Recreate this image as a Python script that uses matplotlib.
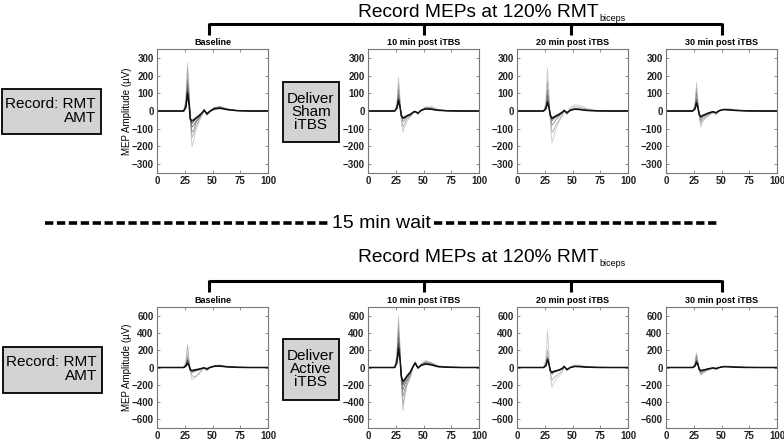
import matplotlib
matplotlib.use("Agg")
import matplotlib.pyplot as plt
from matplotlib.patches import Rectangle

plt.rcParams['font.family'] = ['Liberation Sans', 'DejaVu Sans']

# time axis (ms) shared by all traces
t = [0, 24, 26, 27.5, 29, 30, 31.5, 33, 35, 38, 41, 42.5, 45, 48, 52, 57, 63, 72, 85, 100]

# sham session, traces from lightest to the black mean
sham_base = [
    [0, 0, 60, 270, 120, -60, -200, -170, -110, -60, -20, 5, -25, -5, 15, 20, 10, 3, 0, 0],
    [0, 0, 50, 240, 100, -40, -150, -130, -90, -50, -15, 10, -20, 0, 18, 22, 12, 3, 0, 0],
    [0, 0, 40, 180, 80, -30, -120, -110, -70, -40, -10, 8, -18, 0, 20, 25, 12, 3, 0, 0],
    [0, 0, 35, 150, 60, -40, -90, -80, -60, -35, -5, 10, -15, 2, 20, 20, 10, 2, 0, 0],
    [0, 0, 25, 120, 40, -50, -70, -60, -45, -30, -8, 5, -20, 0, 15, 18, 8, 2, 0, 0],
    [0, 0, 20, 100, 30, -45, -55, -50, -40, -25, -8, 3, -15, 0, 12, 15, 8, 2, 0, 0],
]
sham_10 = [
    [0, 0, 40, 190, 60, -50, -120, -90, -60, -35, -10, 0, -20, 5, 20, 25, 10, 2, 0, 0],
    [0, 0, 30, 150, 40, -40, -90, -70, -45, -30, -8, 0, -18, 5, 22, 20, 8, 2, 0, 0],
    [0, 0, 25, 120, 30, -30, -60, -50, -35, -25, -5, -2, -15, 5, 18, 15, 6, 2, 0, 0],
    [0, 0, 20, 90, 25, -25, -45, -40, -30, -20, -6, -3, -12, 5, 15, 12, 5, 1, 0, 0],
    [0, 0, 15, 70, 20, -20, -40, -35, -25, -18, -5, -4, -12, 4, 12, 10, 4, 1, 0, 0],
    [0, 0, 15, 60, 15, -25, -40, -35, -28, -20, -6, -3, -12, 4, 12, 10, 4, 1, 0, 0],
]
sham_20 = [
    [0, 0, 50, 240, 80, -60, -180, -150, -100, -60, -25, -10, -10, 20, 35, 30, 15, 3, 0, 0],
    [0, 0, 30, 170, 50, -40, -120, -110, -80, -50, -20, 5, -20, 10, 25, 20, 10, 2, 0, 0],
    [0, 0, 25, 120, 35, -30, -80, -70, -50, -30, -10, 5, -15, 5, 15, 12, 5, 1, 0, 0],
    [0, 0, 20, 90, 25, -25, -55, -45, -35, -25, -8, 5, -12, 5, 12, 10, 4, 1, 0, 0],
    [0, 0, 15, 60, 15, -25, -45, -40, -30, -20, -6, 3, -10, 4, 10, 8, 3, 1, 0, 0],
    [0, 0, 12, 50, 12, -22, -40, -35, -28, -18, -6, 3, -10, 4, 10, 8, 3, 1, 0, 0],
]
sham_30 = [
    [0, 0, 30, 160, 40, -40, -90, -60, -45, -30, -15, -10, -20, 0, 10, 12, 6, 2, 0, 0],
    [0, 0, 25, 130, 30, -30, -70, -50, -40, -25, -12, -8, -18, 0, 10, 10, 5, 1, 0, 0],
    [0, 0, 20, 100, 25, -25, -55, -40, -30, -20, -10, -6, -15, 2, 10, 10, 5, 1, 0, 0],
    [0, 0, 15, 70, 20, -20, -40, -30, -25, -15, -8, -5, -12, 2, 8, 8, 4, 1, 0, 0],
    [0, 0, 12, 55, 12, -18, -35, -28, -20, -12, -6, -4, -10, 2, 8, 6, 3, 1, 0, 0],
    [0, 0, 10, 45, 10, -20, -32, -25, -20, -12, -6, -4, -10, 2, 8, 6, 3, 1, 0, 0],
]

# active session
active_base = [
    [0, 0, 40, 170, 60, -50, -140, -130, -100, -60, -30, -10, -40, 0, 25, 30, 15, 3, 0, 0],
    [0, 0, 60, 260, 80, -40, -90, -110, -110, -70, -20, -5, -35, 0, 20, 25, 12, 3, 0, 0],
    [0, 0, 30, 120, 40, -30, -60, -50, -40, -30, -10, -5, -25, 2, 20, 20, 10, 2, 0, 0],
    [0, 0, 25, 90, 30, -30, -50, -45, -35, -25, -10, -5, -22, 2, 18, 18, 9, 2, 0, 0],
    [0, 0, 20, 80, 20, -25, -40, -35, -30, -20, -8, -5, -20, 2, 15, 15, 8, 2, 0, 0],
    [0, 0, 15, 50, 15, -25, -35, -30, -25, -18, -8, -4, -15, 2, 15, 15, 8, 2, 0, 0],
]
active_10 = [
    [0, 0, 150, 600, 200, -200, -500, -350, -220, -120, 20, 70, -10, 40, 80, 60, 20, 5, 0, 0],
    [0, 0, 120, 520, 170, -160, -430, -320, -200, -110, 20, 65, -5, 40, 75, 55, 18, 5, 0, 0],
    [0, 0, 100, 430, 140, -130, -330, -260, -170, -90, 25, 60, -5, 35, 60, 45, 15, 4, 0, 0],
    [0, 0, 80, 350, 120, -110, -260, -200, -140, -70, 25, 55, -5, 30, 55, 40, 12, 3, 0, 0],
    [0, 0, 60, 280, 90, -90, -200, -160, -110, -60, 25, 50, -5, 30, 45, 35, 10, 3, 0, 0],
    [0, 0, 55, 220, 70, -100, -160, -140, -100, -55, 20, 50, -5, 25, 40, 30, 10, 3, 0, 0],
]
active_20 = [
    [0, 0, 100, 420, 120, -80, -230, -190, -130, -100, -50, 10, -20, 5, 30, 25, 10, 2, 0, 0],
    [0, 0, 40, 200, 60, -60, -150, -120, -100, -70, -30, 15, -30, 0, 25, 20, 8, 2, 0, 0],
    [0, 0, 30, 130, 40, -40, -80, -60, -50, -35, -15, 15, -30, 0, 15, 12, 5, 1, 0, 0],
    [0, 0, 28, 110, 35, -40, -70, -55, -45, -32, -12, 12, -28, 0, 14, 11, 5, 1, 0, 0],
    [0, 0, 25, 100, 30, -40, -60, -50, -40, -30, -12, 12, -25, 0, 12, 10, 4, 1, 0, 0],
    [0, 0, 20, 90, 25, -35, -55, -45, -38, -28, -10, 12, -25, 0, 12, 10, 4, 1, 0, 0],
]
active_30 = [
    [0, 0, 40, 170, 50, -40, -90, -70, -50, -30, -15, -10, -25, 0, 15, 15, 6, 2, 0, 0],
    [0, 0, 35, 150, 45, -35, -80, -60, -45, -28, -14, -9, -22, 0, 14, 14, 6, 2, 0, 0],
    [0, 0, 30, 130, 40, -30, -70, -55, -40, -25, -12, -8, -20, 0, 12, 12, 5, 1, 0, 0],
    [0, 0, 20, 90, 30, -25, -50, -40, -30, -20, -10, -6, -15, 0, 10, 10, 4, 1, 0, 0],
    [0, 0, 18, 75, 25, -22, -42, -35, -28, -18, -9, -5, -13, 0, 10, 9, 4, 1, 0, 0],
    [0, 0, 15, 60, 20, -20, -35, -30, -25, -15, -8, -5, -12, 0, 10, 8, 3, 1, 0, 0],
]

panel_titles = ['Baseline', '10 min post iTBS', '20 min post iTBS', '30 min post iTBS']
trace_colors = ['#c8c8c8', '#acacac', '#8c8c8c', '#6c6c6c', '#4a4a4a', '#111111']
trace_widths = [0.6, 0.6, 0.6, 0.6, 0.7, 1.1]

W, H = 784, 443
fig = plt.figure(figsize=(W / 100, H / 100), dpi=100)

# overlay for the boxes, brackets and headings (pixel coordinates)
ov = fig.add_axes([0, 0, 1, 1])
ov.set_xlim(0, W)
ov.set_ylim(H, 0)
ov.axis('off')

ax_left = [157, 368, 517, 666]
ax_w = 111


def draw_row(top, height, panels, lim, yticks):
    for i, (x0, traces) in enumerate(zip(ax_left, panels)):
        ax = fig.add_axes([x0 / W, 1 - (top + height) / H, ax_w / W, height / H])
        for tr, c, lw in zip(traces, trace_colors, trace_widths):
            ax.plot(t, tr, color=c, lw=lw)
        ax.set_xlim(0, 100)
        ax.set_ylim(-lim, lim)
        ax.set_xticks([0, 25, 50, 75, 100])
        ax.set_yticks(yticks)
        ax.tick_params(direction='in', length=2.5, width=0.6, color='#777777',
                       top=True, right=True, labelsize=7, pad=2.5)
        for lab in ax.get_xticklabels() + ax.get_yticklabels():
            lab.set_fontweight('bold')
            lab.set_color('#222222')
        for sp in ax.spines.values():
            sp.set_color('#777777')
            sp.set_linewidth(0.8)
        ax.set_title(panel_titles[i], fontsize=6.5, fontweight='bold', pad=3)
        if i == 0:
            ax.set_ylabel('MEP Amplitude (\u00b5V)', fontsize=7, labelpad=0)


def gray_box(x0, y0, x1, y1):
    ov.add_patch(Rectangle((x0, y0), x1 - x0, y1 - y0, facecolor='#d3d3d3',
                           edgecolor='black', lw=1.3))


def bracket(y, ticks):
    ov.plot([ticks[0], ticks[-1]], [y, y], color='black', lw=2.2, solid_capstyle='butt')
    for xt in ticks:
        ov.plot([xt, xt], [y - 1, y + 11], color='black', lw=2.2, solid_capstyle='butt')


def header(y):
    txt = ov.text(358, y, 'Record MEPs at 120% RMT', fontsize=13.8, ha='left', va='baseline')
    fig.canvas.draw()
    bb = txt.get_window_extent()
    # subscript right after the end of "RMT"
    ov.annotate('biceps', xy=(bb.x1 + 1, H - (y + 4)), xycoords='figure pixels',
                fontsize=6.5, ha='left', va='baseline')


tick_x = [209, 424, 571, 722]

# top (sham) row
header(17)
bracket(24, tick_x)
draw_row(49, 124, [sham_base, sham_10, sham_20, sham_30], 350, [-300, -200, -100, 0, 100, 200, 300])
gray_box(2, 89, 101, 134)
ov.text(96, 111, 'Record: RMT\nAMT', fontsize=11, ha='right', va='center', linespacing=1.0)
gray_box(283, 82, 339, 142)
ov.text(311, 112, 'Deliver\nSham\niTBS', fontsize=11, ha='center', va='center', linespacing=0.95)

# wait separator
ov.plot([45, 328], [223, 223], color='black', lw=2.6, ls=(0, (2.3, 1.0)))
ov.text(381, 223, '15 min wait', fontsize=14, ha='center', va='center')
ov.plot([434, 717], [223, 223], color='black', lw=2.6, ls=(0, (2.3, 1.0)))

# bottom (active) row
header(262)
bracket(281, tick_x)
draw_row(307, 121, [active_base, active_10, active_20, active_30], 700, [-600, -400, -200, 0, 200, 400, 600])
gray_box(3, 347, 102, 393)
ov.text(97, 369, 'Record: RMT\nAMT', fontsize=11, ha='right', va='center', linespacing=1.0)
gray_box(283, 339, 339, 400)
ov.text(311, 369, 'Deliver\nActive\niTBS', fontsize=11, ha='center', va='center', linespacing=0.95)

fig.savefig('out.png', dpi=100)
